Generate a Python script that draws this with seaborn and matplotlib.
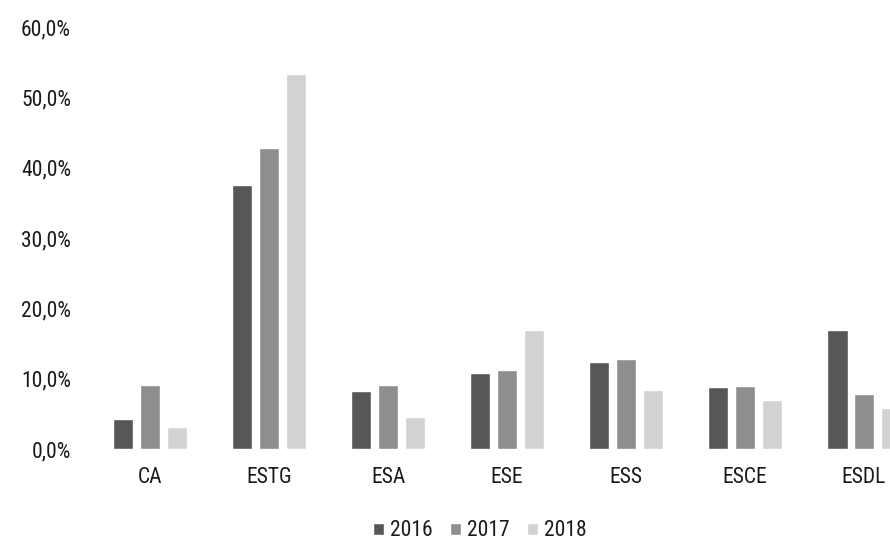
import matplotlib
matplotlib.use("Agg")
import matplotlib.pyplot as plt
from matplotlib import font_manager
from matplotlib.ticker import FuncFormatter
import seaborn as sns
import pandas as pd

# Share per school and year (%)
schools = ["CA", "ESTG", "ESA", "ESE", "ESS", "ESCE", "ESDL"]
years = ["2016", "2017", "2018"]
v2016 = [4.3, 37.5, 8.2, 10.8, 12.4, 8.8, 16.9]
v2017 = [9.1, 42.8, 9.1, 11.2, 12.8, 9.0, 7.8]
v2018 = [3.1, 53.3, 4.5, 16.9, 8.4, 7.0, 5.8]

df = pd.DataFrame({
    "school": schools * 3,
    "year": [y for y in years for _ in schools],
    "value": v2016 + v2017 + v2018,
})


def first_installed(families):
    for fam in families:
        try:
            font_manager.findfont(fam, fallback_to_default=False)
            return fam
        except ValueError:
            continue
    return "DejaVu Sans"


sns.set_theme(style="white")
font = first_installed(["Liberation Sans Narrow", "DejaVu Sans Condensed",
                        "Roboto Condensed", "Roboto"])
plt.rcParams["font.family"] = [font, "DejaVu Sans"]

fig = plt.figure(figsize=(8.9, 5.43), dpi=100)
ax = fig.add_axes([0.1017, 0.1731, 0.936, 0.7772])

palette = {"2016": "#575757", "2017": "#8e8e8e", "2018": "#d2d2d2"}
sns.barplot(data=df, x="school", y="value", hue="year", order=schools,
            hue_order=years, palette=palette, width=0.67, gap=0.245,
            saturation=1, ax=ax, legend=True)

ax.set_xlim(-0.5, 6.5)
ax.set_ylim(0, 60)
ax.set_yticks(range(0, 61, 10))
ax.yaxis.set_major_formatter(FuncFormatter(lambda v, _: f"{v:.1f}%".replace(".", ",")))
ax.set_xlabel("")
ax.set_ylabel("")
for s in ax.spines.values():
    s.set_visible(False)
ax.tick_params(axis="y", length=0, pad=14, labelsize=15.5, labelcolor="#1a1a1a")
ax.tick_params(axis="x", length=0, pad=13, labelsize=15.5, labelcolor="#1a1a1a")

leg = ax.legend(loc="center", bbox_to_anchor=(480 / 890, 12 / 543),
                bbox_transform=fig.transFigure, ncol=3, frameon=False,
                fontsize=15.5, handlelength=0.5, handleheight=0.5,
                handletextpad=0.3, columnspacing=0.8)
for t in leg.get_texts():
    t.set_color("#1a1a1a")

fig.savefig("out.png", dpi=100)
